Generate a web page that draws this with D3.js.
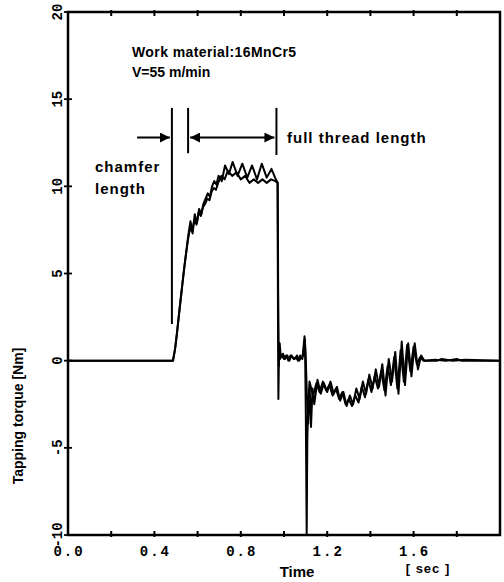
<!DOCTYPE html>
<html>
<head>
<meta charset="utf-8">
<script src="https://cdn.jsdelivr.net/npm/d3@7"></script>
<style>
  body { margin: 0; background: #fff; }
  svg { display: block; }
</style>
</head>
<body>
<script>
// tapping torque vs time, two runs
const timeA = [0, 0.485, 0.495, 0.505, 0.515, 0.525, 0.535, 0.545, 0.555, 0.565, 0.575, 0.585, 0.595, 0.605, 0.615, 0.625, 0.635, 0.645, 0.655, 0.665, 0.675, 0.685, 0.695, 0.71, 0.725, 0.74, 0.76, 0.78, 0.80, 0.82, 0.84, 0.86, 0.88, 0.90, 0.92, 0.94, 0.96, 0.970, 0.972, 0.974, 0.977, 0.982, 0.99, 1.0, 1.01, 1.02, 1.03, 1.04, 1.05, 1.06, 1.07, 1.08, 1.09, 1.097, 1.101, 1.105, 1.108, 1.113, 1.12, 1.135, 1.15, 1.165, 1.18, 1.195, 1.21, 1.225, 1.24, 1.255, 1.27, 1.285, 1.30, 1.315, 1.33, 1.345, 1.36, 1.375, 1.39, 1.405, 1.42, 1.435, 1.45, 1.465, 1.48, 1.495, 1.51, 1.525, 1.54, 1.555, 1.57, 1.585, 1.60, 1.615, 1.63, 1.645, 1.70, 1.75, 1.80, 1.82, 2.0];
const torqueA = [0, 0, 0.6, 1.6, 2.8, 3.9, 5.0, 6.0, 6.9, 7.6, 7.4, 8.1, 7.8, 8.5, 8.3, 8.8, 9.0, 9.3, 9.2, 9.7, 9.9, 9.8, 10.2, 10.6, 10.4, 10.9, 10.6, 10.8, 10.4, 10.6, 10.2, 10.4, 10.2, 10.4, 10.2, 10.4, 10.3, 10.2, 3.0, -2.2, 0.6, 0.1, 0.3, 0.1, 0.3, 0.0, 0.3, 0.2, 0.1, 0.3, 0.0, 0.2, 0.3, 1.2, -3.0, -10, -4.5, -2.2, -1.3, -2.0, -1.3, -1.8, -1.2, -1.7, -1.4, -2.0, -1.6, -2.2, -1.8, -2.5, -2.2, -2.6, -2.0, -2.4, -1.5, -2.1, -1.1, -1.8, -0.9, -1.6, -0.6, -1.7, -0.3, -1.4, 0.2, -1.6, 0.6, -1.2, 0.9, -0.6, 0.8, -0.2, 0.2, 0.0, 0.05, 0.0, 0.1, 0.0, 0.0];

const timeB = [0, 0.487, 0.497, 0.507, 0.517, 0.527, 0.537, 0.547, 0.557, 0.567, 0.577, 0.587, 0.597, 0.607, 0.617, 0.627, 0.637, 0.647, 0.657, 0.667, 0.677, 0.687, 0.697, 0.712, 0.727, 0.745, 0.762, 0.785, 0.807, 0.83, 0.852, 0.875, 0.897, 0.92, 0.942, 0.962, 0.971, 0.973, 0.976, 0.98, 0.985, 0.995, 1.005, 1.015, 1.025, 1.035, 1.045, 1.055, 1.065, 1.075, 1.085, 1.095, 1.100, 1.106, 1.112, 1.118, 1.125, 1.132, 1.14, 1.155, 1.17, 1.185, 1.20, 1.215, 1.23, 1.245, 1.26, 1.275, 1.29, 1.305, 1.32, 1.335, 1.35, 1.365, 1.38, 1.395, 1.41, 1.425, 1.44, 1.455, 1.47, 1.485, 1.50, 1.515, 1.53, 1.545, 1.56, 1.575, 1.59, 1.605, 1.62, 1.635, 1.65, 1.71, 1.73, 1.78, 1.84, 2.0];
const torqueB = [0, 0, 0.8, 1.9, 3.0, 4.1, 5.2, 6.2, 7.2, 8.0, 7.3, 8.4, 7.9, 8.7, 8.4, 9.0, 9.3, 9.6, 9.4, 10.0, 10.3, 10.1, 10.6, 10.3, 11.2, 10.7, 11.4, 10.6, 11.3, 10.5, 11.2, 10.4, 11.3, 10.5, 11.0, 10.4, 10.2, 4.0, -0.3, 1.0, 0.2, 0.4, 0.1, 0.3, 0.0, 0.3, 0.1, 0.2, 0.0, 0.3, 0.1, 1.4, 0.5, -2.0, -3.6, -1.2, -3.8, -1.6, -2.5, -1.1, -1.9, -1.3, -1.8, -1.2, -1.9, -1.5, -2.3, -1.8, -2.6, -2.0, -2.5, -1.6, -2.2, -1.2, -1.9, -0.8, -1.6, -0.5, -1.5, -0.2, -2.0, 0.1, -1.2, 0.5, -1.9, 1.1, -1.4, 1.0, -0.9, 1.0, -0.5, 0.3, 0.0, 0.0, 0.1, 0.0, 0.05, 0.0];

// axis ticks
const xTicks = [0, 0.2, 0.4, 0.6, 0.8, 1.0, 1.2, 1.4, 1.6, 1.8];
const xLabels = [0, 0.4, 0.8, 1.2, 1.6];
const yTicks = [-10, -5, 0, 5, 10, 15, 20];

// chamfer / full thread markers (time, bottom torque)
const markerTime = [0.481, 0.556, 0.965];
const markerLow = [2.1, 11.9, 11.8];
const markerTop = 14.5;
const arrowLevel = 12.8;

const W = 504, H = 582;
const x = d3.scaleLinear().domain([0, 2.0]).range([68, 500]);
const y = d3.scaleLinear().domain([-10, 20]).range([535, 12]);

const svg = d3.select("body").append("svg")
    .attr("width", W)
    .attr("height", H)
    .style("font-family", "'Liberation Sans', Arial, sans-serif");

const defs = svg.append("defs");
defs.append("marker")
    .attr("id", "head")
    .attr("viewBox", "0 0 10 10")
    .attr("refX", 10).attr("refY", 5)
    .attr("markerWidth", 10).attr("markerHeight", 10)
    .attr("markerUnits", "userSpaceOnUse")
    .attr("orient", "auto-start-reverse")
  .append("path")
    .attr("d", "M0,0L10,5L0,10Z")
    .attr("fill", "#000");

// frame
svg.append("rect")
    .attr("x", x(0)).attr("y", y(20))
    .attr("width", x(2) - x(0)).attr("height", y(-10) - y(20))
    .attr("fill", "none").attr("stroke", "#000").attr("stroke-width", 2.5);

// x ticks, bottom and top
svg.append("g").selectAll("line")
  .data(xTicks.slice(1))
  .join("line")
    .attr("x1", d => x(d)).attr("x2", d => x(d))
    .attr("y1", y(-10) - 4).attr("y2", y(-10) + 2)
    .attr("stroke", "#000").attr("stroke-width", 2);
svg.append("g").selectAll("line")
  .data(xTicks.slice(1))
  .join("line")
    .attr("x1", d => x(d)).attr("x2", d => x(d))
    .attr("y1", y(20) - 2).attr("y2", y(20) + 4)
    .attr("stroke", "#000").attr("stroke-width", 2);

svg.append("g").selectAll("text")
  .data(xLabels)
  .join("text")
    .attr("x", d => x(d) + 1)
    .attr("y", 556)
    .attr("text-anchor", "middle")
    .style("font-family", "'Liberation Mono', 'DejaVu Sans Mono', monospace")
    .style("font-weight", "bold")
    .style("font-size", "14px")
    .style("letter-spacing", "2px")
    .text(d => d.toFixed(1));

// y ticks
svg.append("g").selectAll("line")
  .data(yTicks)
  .join("line")
    .attr("x1", x(0) - 4).attr("x2", x(0) + 4)
    .attr("y1", d => y(d)).attr("y2", d => y(d))
    .attr("stroke", "#000").attr("stroke-width", 1.8);

svg.append("g").selectAll("text")
  .data(yTicks)
  .join("text")
    .attr("transform", d => `translate(${x(0) - 6},${y(d)}) rotate(-90)`)
    .attr("text-anchor", "middle")
    .style("font-family", "'Liberation Mono', 'DejaVu Sans Mono', monospace")
    .style("font-weight", "bold")
    .style("font-size", "14px")
    .text(d => d);

// axis titles
svg.append("text")
    .attr("transform", `translate(23,${416}) rotate(-90)`)
    .attr("text-anchor", "middle")
    .style("font-weight", "bold").style("font-size", "14px")
    .text("Tapping torque [Nm]");
svg.append("text")
    .attr("x", 297).attr("y", 577)
    .attr("text-anchor", "middle")
    .style("font-weight", "bold").style("font-size", "15px")
    .text("Time");
svg.append("text")
    .attr("x", 428).attr("y", 573)
    .attr("text-anchor", "middle")
    .style("font-weight", "bold").style("font-size", "13px")
    .style("letter-spacing", "1px")
    .text("[ sec ]");

// data
const line = d3.line().x(d => x(d[0])).y(d => y(d[1]));
const seriesA = timeA.map((t, i) => [t, torqueA[i]]);
const seriesB = timeB.map((t, i) => [t, torqueB[i]]);
svg.append("g").selectAll("path")
  .data([seriesA, seriesB])
  .join("path")
    .attr("d", line)
    .attr("fill", "none")
    .attr("stroke", "#000")
    .attr("stroke-width", 2)
    .attr("stroke-linejoin", "round");

// markers
svg.append("g").selectAll("line")
  .data(markerTime)
  .join("line")
    .attr("x1", d => x(d)).attr("x2", d => x(d))
    .attr("y1", y(markerTop))
    .attr("y2", (d, i) => y(markerLow[i]))
    .attr("stroke", "#000").attr("stroke-width", 2);

svg.append("line")
    .attr("x1", x(0.32)).attr("x2", x(markerTime[0]) - 2)
    .attr("y1", y(arrowLevel)).attr("y2", y(arrowLevel))
    .attr("stroke", "#000").attr("stroke-width", 2)
    .attr("marker-end", "url(#head)");
svg.append("line")
    .attr("x1", x(markerTime[1]) + 2).attr("x2", x(markerTime[2]) - 2)
    .attr("y1", y(arrowLevel)).attr("y2", y(arrowLevel))
    .attr("stroke", "#000").attr("stroke-width", 2)
    .attr("marker-start", "url(#head)")
    .attr("marker-end", "url(#head)");

// annotations
const note = svg.append("g").style("font-weight", "bold");
note.append("text").attr("x", 132).attr("y", 57)
    .style("font-size", "14px").style("letter-spacing", "0.4px")
    .text("Work material:16MnCr5");
note.append("text").attr("x", 132).attr("y", 77)
    .style("font-size", "14px")
    .text("V=55 m/min");
note.append("text").attr("x", 95).attr("y", 172)
    .style("font-size", "15px").style("letter-spacing", "1px")
    .text("chamfer");
note.append("text").attr("x", 95).attr("y", 194)
    .style("font-size", "15px").style("letter-spacing", "1px")
    .text("length");
note.append("text").attr("x", 287).attr("y", 143)
    .style("font-size", "15px").style("letter-spacing", "1px")
    .text("full thread length");
</script>
</body>
</html>
